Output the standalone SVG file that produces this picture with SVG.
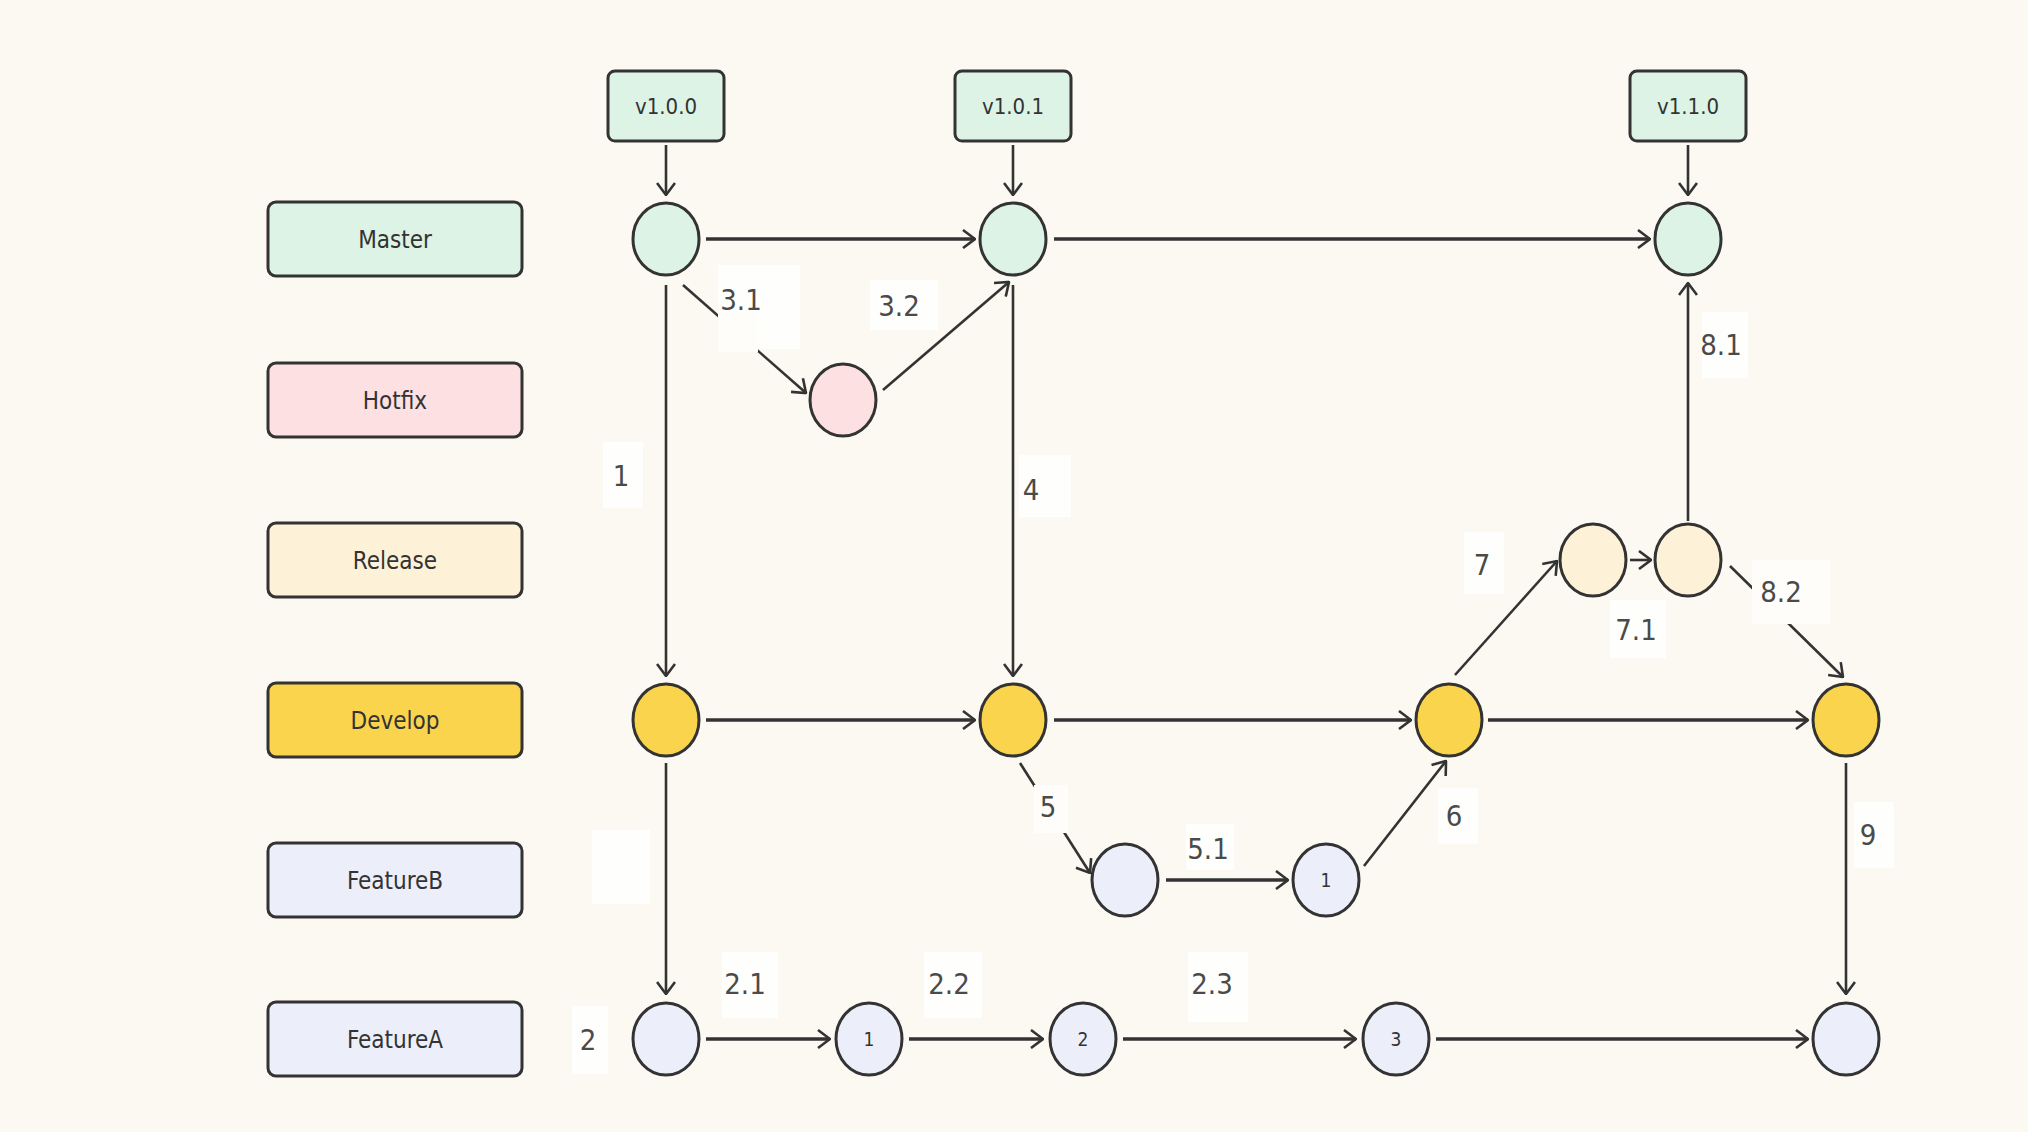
<svg xmlns="http://www.w3.org/2000/svg" width="2028" height="1132" viewBox="0 0 2028 1132">
<defs>
<style>
.bg{fill:#FCF9F2}
.box{stroke:#333;stroke-width:3}
.lane{font-family:"DejaVu Sans Condensed","DejaVu Sans",sans-serif;font-size:24px;fill:#333;text-anchor:middle}
.tag{font-family:"DejaVu Sans Condensed","DejaVu Sans",sans-serif;font-size:22px;fill:#333;text-anchor:middle}
.nl{font-family:"DejaVu Sans Condensed","DejaVu Sans",sans-serif;font-size:19px;fill:#333;text-anchor:middle}
.el{font-family:"DejaVu Sans Condensed","DejaVu Sans",sans-serif;font-size:29px;fill:#4a4a4a;text-anchor:middle}
.lb{fill:#ffffff;fill-opacity:0.75}
.m{fill:#DDF3E5}
.h{fill:#FCE0E2}
.r{fill:#FDF1D8}
.d{fill:#FBD44E}
.f{fill:#ECEFFA}
.e{stroke:#333;stroke-width:2.6;fill:none;marker-end:url(#arr)}
.eh{stroke:#333;stroke-width:3.4;fill:none;marker-end:url(#arr)}
</style>
<marker id="arr" viewBox="0 0 14 20" refX="13" refY="10" markerWidth="14" markerHeight="20" markerUnits="userSpaceOnUse" orient="auto">
<path d="M1,1 L13,10 L1,19" fill="none" stroke="#333" stroke-width="2.6"/>
</marker>
</defs>
<rect class="bg" x="0" y="0" width="2028" height="1132"/>

<g id="lanes">
<g id="lane-master"><rect class="box m" x="268" y="202" width="254" height="74" rx="8"/><text class="lane" x="395" y="248">Master</text></g>
<g id="lane-hotfix"><rect class="box h" x="268" y="363" width="254" height="74" rx="8"/><text class="lane" x="395" y="409">Hotfix</text></g>
<g id="lane-release"><rect class="box r" x="268" y="523" width="254" height="74" rx="8"/><text class="lane" x="395" y="569">Release</text></g>
<g id="lane-develop"><rect class="box d" x="268" y="683" width="254" height="74" rx="8"/><text class="lane" x="395" y="729">Develop</text></g>
<g id="lane-featureb"><rect class="box f" x="268" y="843" width="254" height="74" rx="8"/><text class="lane" x="395" y="889">FeatureB</text></g>
<g id="lane-featurea"><rect class="box f" x="268" y="1002" width="254" height="74" rx="8"/><text class="lane" x="395" y="1048">FeatureA</text></g>
</g>

<g id="tags">
<g id="tag-v100"><rect class="box m" x="608" y="71" width="116" height="70" rx="7"/><text class="tag" x="666" y="114">v1.0.0</text></g>
<g id="tag-v101"><rect class="box m" x="955" y="71" width="116" height="70" rx="7"/><text class="tag" x="1013" y="114">v1.0.1</text></g>
<g id="tag-v110"><rect class="box m" x="1630" y="71" width="116" height="70" rx="7"/><text class="tag" x="1688" y="114">v1.1.0</text></g>
</g>

<g id="connectors">
<line class="e" x1="666" y1="145" x2="666" y2="195"/>
<line class="e" x1="1013" y1="145" x2="1013" y2="195"/>
<line class="e" x1="1688" y1="145" x2="1688" y2="195"/>
<line class="eh" x1="706" y1="239" x2="975" y2="239"/>
<line class="eh" x1="1054" y1="239" x2="1650" y2="239"/>
<line class="e" x1="666" y1="285" x2="666" y2="676"/>
<line class="e" x1="683" y1="285" x2="806" y2="393"/>
<line class="e" x1="883" y1="390" x2="1009" y2="282"/>
<line class="e" x1="1013" y1="285" x2="1013" y2="676"/>
<line class="eh" x1="706" y1="720" x2="975" y2="720"/>
<line class="eh" x1="1054" y1="720" x2="1411" y2="720"/>
<line class="eh" x1="1488" y1="720" x2="1808" y2="720"/>
<line class="e" x1="1020" y1="763" x2="1090" y2="873"/>
<line class="eh" x1="1166" y1="880" x2="1288" y2="880"/>
<line class="e" x1="1364" y1="866" x2="1446" y2="761"/>
<line class="e" x1="1455" y1="675" x2="1557" y2="561"/>
<line class="e" x1="1630" y1="560" x2="1651" y2="560"/>
<line class="e" x1="1688" y1="521" x2="1688" y2="283"/>
<line class="e" x1="1730" y1="566" x2="1843" y2="677"/>
<line class="e" x1="1846" y1="763" x2="1846" y2="994"/>
<line class="e" x1="666" y1="763" x2="666" y2="994"/>
<line class="eh" x1="706" y1="1039" x2="830" y2="1039"/>
<line class="eh" x1="909" y1="1039" x2="1043" y2="1039"/>
<line class="eh" x1="1123" y1="1039" x2="1356" y2="1039"/>
<line class="eh" x1="1436" y1="1039" x2="1808" y2="1039"/>
</g>

<g id="edge-labels">
<rect class="lb" x="718" y="265" width="82" height="84"/><rect x="718" y="312" width="40" height="40" fill="#fefdfa"/><text class="el" x="741" y="310">3.1</text>
<rect class="lb" x="870" y="280" width="68" height="50"/><text class="el" x="899" y="316">3.2</text>
<rect class="lb" x="603" y="442" width="40" height="66"/><text class="el" x="621" y="486">1</text>
<rect class="lb" x="1019" y="455" width="52" height="62"/><text class="el" x="1031" y="500">4</text>
<rect class="lb" x="1464" y="532" width="40" height="62"/><text class="el" x="1482" y="575">7</text>
<rect class="lb" x="1610" y="600" width="56" height="58"/><text class="el" x="1636" y="640">7.1</text>
<rect x="1752" y="560" width="78" height="64" fill="#fefdfa"/><text class="el" x="1781" y="602">8.2</text>
<rect class="lb" x="1702" y="312" width="46" height="66"/><text class="el" x="1721" y="355">8.1</text>
<rect x="1034" y="785" width="34" height="48" fill="#fefdfa"/><text class="el" x="1048" y="817">5</text>
<rect class="lb" x="1186" y="824" width="48" height="46"/><text class="el" x="1208" y="859">5.1</text>
<rect class="lb" x="1438" y="788" width="40" height="56"/><text class="el" x="1454" y="826">6</text>
<rect class="lb" x="1854" y="802" width="40" height="66"/><text class="el" x="1868" y="845">9</text>
<rect class="lb" x="592" y="830" width="58" height="74"/>
<rect class="lb" x="572" y="1006" width="36" height="68"/><text class="el" x="588" y="1050">2</text>
<rect class="lb" x="722" y="952" width="56" height="66"/><text class="el" x="745" y="994">2.1</text>
<rect class="lb" x="924" y="952" width="58" height="66"/><text class="el" x="949" y="994">2.2</text>
<rect class="lb" x="1188" y="952" width="60" height="70"/><text class="el" x="1212" y="994">2.3</text>
</g>

<g id="nodes">
<g id="m1"><ellipse class="box m" cx="666" cy="239" rx="33" ry="36"/></g>
<g id="m2"><ellipse class="box m" cx="1013" cy="239" rx="33" ry="36"/></g>
<g id="m3"><ellipse class="box m" cx="1688" cy="239" rx="33" ry="36"/></g>
<g id="h1"><ellipse class="box h" cx="843" cy="400" rx="33" ry="36"/></g>
<g id="r1"><ellipse class="box r" cx="1593" cy="560" rx="33" ry="36"/></g>
<g id="r2"><ellipse class="box r" cx="1688" cy="560" rx="33" ry="36"/></g>
<g id="d1"><ellipse class="box d" cx="666" cy="720" rx="33" ry="36"/></g>
<g id="d2"><ellipse class="box d" cx="1013" cy="720" rx="33" ry="36"/></g>
<g id="d3"><ellipse class="box d" cx="1449" cy="720" rx="33" ry="36"/></g>
<g id="d4"><ellipse class="box d" cx="1846" cy="720" rx="33" ry="36"/></g>
<g id="fb0"><ellipse class="box f" cx="1125" cy="880" rx="33" ry="36"/></g>
<g id="fb1"><ellipse class="box f" cx="1326" cy="880" rx="33" ry="36"/><text class="nl" x="1326" y="887">1</text></g>
<g id="fa0"><ellipse class="box f" cx="666" cy="1039" rx="33" ry="36"/></g>
<g id="fa1"><ellipse class="box f" cx="869" cy="1039" rx="33" ry="36"/><text class="nl" x="869" y="1046">1</text></g>
<g id="fa2"><ellipse class="box f" cx="1083" cy="1039" rx="33" ry="36"/><text class="nl" x="1083" y="1046">2</text></g>
<g id="fa3"><ellipse class="box f" cx="1396" cy="1039" rx="33" ry="36"/><text class="nl" x="1396" y="1046">3</text></g>
<g id="fa4"><ellipse class="box f" cx="1846" cy="1039" rx="33" ry="36"/></g>
</g>
</svg>
